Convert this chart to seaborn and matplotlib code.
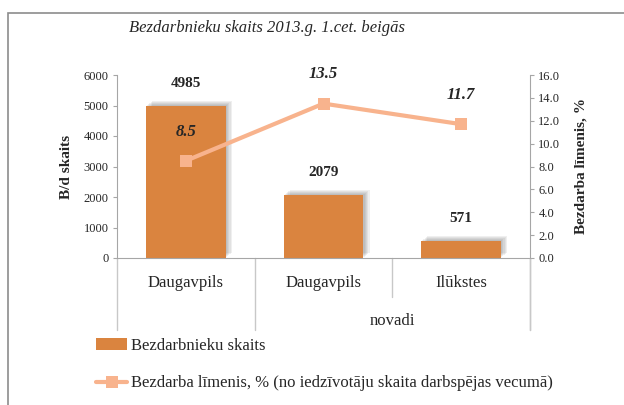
import numpy as np
import pandas as pd
import matplotlib
matplotlib.use("Agg")
import matplotlib.pyplot as plt
import matplotlib.patheffects as pe
from matplotlib.patches import Rectangle
from matplotlib.lines import Line2D
from matplotlib.patches import Patch
import seaborn as sns

# Data
categories = ["Daugavpils", "Daugavpils", "Ilūkstes"]
group_label = "novadi"
unemployed = [4985, 2079, 571]
rate = [8.5, 13.5, 11.7]
left_ticks = [0, 1000, 2000, 3000, 4000, 5000, 6000]
right_ticks = [0.0, 2.0, 4.0, 6.0, 8.0, 10.0, 12.0, 14.0, 16.0]

title = "Bezdarbnieku skaits 2013.g. 1.cet. beigās"
left_label = "B/d skaits"
right_label = "Bezdarba līmenis, %"
bar_name = "Bezdarbnieku skaits"
line_name = "Bezdarba līmenis, % (no iedzīvotāju skaita darbspējas vecumā)"

bar_color = "#DA843F"
line_color = "#F8B38D"
axis_grey = "#A6A6A6"

sns.set_theme(style="white")
plt.rcParams["font.family"] = ["Liberation Serif", "DejaVu Serif"]

df = pd.DataFrame({"pos": np.arange(len(categories)), "count": unemployed, "rate": rate})

fig = plt.figure(figsize=(6.24, 4.05), dpi=100)
ax = fig.add_axes([117 / 624, 1 - 258 / 405, 413 / 624, 183 / 405])

sns.barplot(data=df, x="pos", y="count", color=bar_color, saturation=1,
            width=0.58, ax=ax, linewidth=0)
# soft drop shadow built from several faint offset copies
shadow = [pe.SimplePatchShadow(offset=(o, o * 0.8), shadow_rgbFace="#555555", alpha=0.09)
          for o in (4.5, 3.5, 2.5, 1.5, 0.8)] + [pe.Normal()]
for p in ax.patches:
    p.set_path_effects(shadow)

ax.set_ylim(0, 6000)
ax.set_xlim(-0.5, len(categories) - 0.5)
ax.set_yticks(left_ticks)
ax.set_yticklabels([str(t) for t in left_ticks], fontsize=9)
ax.set_xticks(df["pos"])
ax.set_xticklabels(categories, fontsize=12)
ax.tick_params(axis="x", length=0, pad=12)
ax.tick_params(axis="y", length=3, width=0.8, color=axis_grey, pad=3, left=True)
ax.set_xlabel("")
ax.set_ylabel(left_label, fontsize=11, fontweight="bold", labelpad=8)
for side in ["top", "right"]:
    ax.spines[side].set_visible(False)
ax.spines["left"].set_color(axis_grey)
ax.spines["bottom"].set_color(axis_grey)
ax.spines["left"].set_linewidth(0.8)
ax.spines["bottom"].set_linewidth(0.8)

for x, v in zip(df["pos"], unemployed):
    ax.annotate(str(v), (x, v), xytext=(0, 16), textcoords="offset points",
                ha="center", va="center", fontsize=11, fontweight="bold")

# Multi-level category axis separators
tr = matplotlib.transforms.blended_transform_factory(ax.transData, ax.transAxes)
sep_grey = "#C8C8C8"
for xs, y_end in [(-0.5, -0.393), (0.5, -0.393), (1.5, -0.213), (2.5, -0.393)]:
    ax.add_line(Line2D([xs, xs], [0, y_end], transform=tr, color=sep_grey,
                       lw=1.0, clip_on=False))
ax.text(1.5, -0.345, group_label, transform=tr, ha="center", va="center", fontsize=12)

ax2 = ax.twinx()
sns.lineplot(data=df, x="pos", y="rate", ax=ax2, color=line_color, lw=3,
             marker="s", markersize=9, markeredgewidth=0, legend=False)
ax2.set_ylim(0, 16)
ax2.set_yticks(right_ticks)
ax2.set_yticklabels([f"{t:.1f}" for t in right_ticks], fontsize=9)
ax2.tick_params(axis="y", length=3, width=0.8, color=axis_grey, pad=3, right=True)
ax2.set_ylabel(right_label, fontsize=11, fontweight="bold", labelpad=10)
ax2.set_xlabel("")
for side in ["top", "left", "bottom"]:
    ax2.spines[side].set_visible(False)
ax2.spines["right"].set_color(axis_grey)
ax2.spines["right"].set_linewidth(0.8)
ax2.spines["right"].set_bounds(0, 16)
ax2.add_line(Line2D([2.5, 2.5], [0, -0.393], transform=tr, color=sep_grey,
                    lw=1.0, clip_on=False))
for x, v in zip(df["pos"], rate):
    ax2.annotate(f"{v:.1f}", (x, v), xytext=(0, 21), textcoords="offset points",
                 ha="center", va="center", fontsize=12, fontweight="bold", style="italic")

fig.text(0.428, 1 - 28 / 405, title, ha="center", va="center", fontsize=12, style="italic")

handles = [Patch(facecolor=bar_color, edgecolor="none"),
           Line2D([0], [0], color=line_color, lw=3, marker="s", markersize=9,
                  markeredgewidth=0)]
fig.legend(handles, [bar_name, line_name], loc="upper left",
           bbox_to_anchor=(89 / 624, 1 - 331 / 405), frameon=False, fontsize=12,
           handlelength=1.9, handletextpad=0.2, labelspacing=1.3, borderaxespad=0)

# Outer chart frame (left and top edges visible)
fig.add_artist(Rectangle((8 / 624, -0.1), 1.0, 1.1 - 13 / 405,
                         transform=fig.transFigure, fill=False,
                         edgecolor="#8C8C8C", lw=1.2))

fig.savefig("out.png", dpi=100)
